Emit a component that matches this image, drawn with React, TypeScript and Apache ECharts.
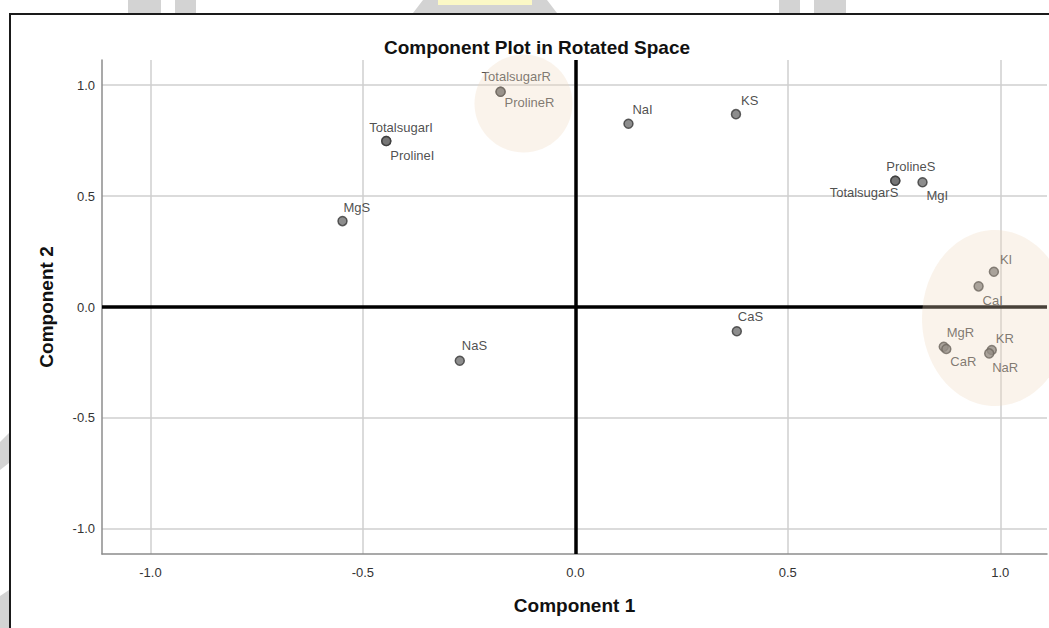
import React, { useEffect, useRef } from "react";
import * as echarts from "echarts";

const pointNames = [
  "TotalsugarR", "ProlineR", "TotalsugarI", "ProlineI", "NaI", "KS",
  "ProlineS", "TotalsugarS", "MgI", "KI", "CaI", "MgR", "CaR", "KR", "NaR",
  "MgS", "NaS", "CaS",
];
const component1 = [
  -0.176, -0.176, -0.445, -0.445, 0.125, 0.378,
  0.753, 0.753, 0.817, 0.985, 0.949, 0.867, 0.873, 0.98, 0.974,
  -0.548, -0.272, 0.38,
];
const component2 = [
  0.97, 0.97, 0.748, 0.748, 0.826, 0.869,
  0.569, 0.569, 0.562, 0.159, 0.093, -0.179, -0.189, -0.194, -0.209,
  0.387, -0.242, -0.109,
];
const tickValues = [-1.0, -0.5, 0.0, 0.5, 1.0];

// label placement (dx, dy from point centre, alignment) – styling only
const labelPlacement: Record<string, [number, number, string]> = {
  TotalsugarR: [-19, -15, "left"],
  ProlineR: [4, 11, "left"],
  TotalsugarI: [-17, -14, "left"],
  ProlineI: [4, 14, "left"],
  NaI: [4, -14, "left"],
  KS: [5, -14, "left"],
  ProlineS: [-9, -14, "left"],
  TotalsugarS: [3, 12, "right"],
  MgI: [4, 13, "left"],
  KI: [6, -12, "left"],
  CaI: [4, 14, "left"],
  MgR: [3, -14, "left"],
  CaR: [4, 13, "left"],
  KR: [4, -12, "left"],
  NaR: [3, 14, "left"],
  MgS: [1, -14, "left"],
  NaS: [2, -15, "left"],
  CaS: [1, -15, "left"],
};

export default function App() {
  const ref = useRef<HTMLDivElement>(null);
  useEffect(() => {
    if (!ref.current) return;
    const chart = echarts.init(ref.current, undefined, { renderer: "svg" });
    const font = "'Liberation Sans', Arial, sans-serif";
    const data = pointNames.map((n, i) => {
      const p = labelPlacement[n] || [4, -14, "left"];
      return {
        name: n,
        value: [component1[i], component2[i]],
        label: { offset: [p[0], p[1]], align: p[2] },
      };
    });
    const axisCommon = {
      type: "value",
      axisLine: { show: true, onZero: false, lineStyle: { color: "#8c8c8c", width: 1.5 } },
      axisTick: { show: false, customValues: tickValues },
      axisLabel: {
        customValues: tickValues,
        color: "#333",
        fontSize: 13,
        fontFamily: font,
        formatter: (v: number) => v.toFixed(1),
      },
      splitLine: { show: true, lineStyle: { color: "#cfcfcf", width: 1.5 } },
      nameLocation: "middle",
      nameTextStyle: { fontSize: 19, fontWeight: "bold", color: "#111", fontFamily: font },
    };
    chart.setOption({
      animation: false,
      backgroundColor: "#fff",
      title: {
        text: "Component Plot in Rotated Space",
        left: 532,
        textAlign: "center",
        top: 33,
        textStyle: { fontSize: 19, fontWeight: "bold", color: "#111", fontFamily: font },
      },
      grid: { left: 102, right: 2, top: 60, bottom: 74, containLabel: false, outerBoundsMode: "none" },
      xAxis: {
        ...axisCommon,
        min: -1.114,
        max: 1.11,
        name: "Component 1",
        nameGap: 42,
        axisLabel: { ...axisCommon.axisLabel, margin: 12 },
      },
      yAxis: {
        ...axisCommon,
        min: -1.113,
        max: 1.113,
        name: "Component 2",
        nameGap: 46,
        nameRotate: 90,
        axisLabel: { ...axisCommon.axisLabel, margin: 7 },
      },
      series: [
        {
          type: "scatter",
          data,
          symbol: "circle",
          symbolSize: 9,
          itemStyle: { color: "#707070", borderColor: "#383838", borderWidth: 1.5 },
          label: {
            show: true,
            position: "inside",
            formatter: "{b}",
            verticalAlign: "middle",
            fontSize: 13,
            fontFamily: font,
            color: "#222",
          },
          markLine: {
            silent: true,
            symbol: "none",
            label: { show: false },
            lineStyle: { color: "#000", width: 3.5, type: "solid" },
            data: [{ xAxis: 0 }, { yAxis: 0 }],
          },
          z: 3,
        },
      ],
      graphic: [
        { type: "rect", shape: { x: 128, y: 0, width: 33, height: 13 }, style: { fill: "#d3d3d3" }, z: 1 },
        { type: "rect", shape: { x: 175, y: 0, width: 21, height: 13 }, style: { fill: "#d3d3d3" }, z: 1 },
        { type: "rect", shape: { x: 779, y: 0, width: 21, height: 13 }, style: { fill: "#d3d3d3" }, z: 1 },
        { type: "rect", shape: { x: 814, y: 0, width: 32, height: 13 }, style: { fill: "#d3d3d3" }, z: 1 },
        { type: "polygon", shape: { points: [[413, 13], [557, 13], [547, 0], [423, 0]] }, style: { fill: "#d3d3d3" }, z: 1 },
        { type: "rect", shape: { x: 438, y: 0, width: 94, height: 5 }, style: { fill: "#fbf8c6" }, z: 2 },
        { type: "polygon", shape: { points: [[0, 442], [9, 433], [9, 463], [0, 470]] }, style: { fill: "#d3d3d3" }, z: 1 },
        { type: "polygon", shape: { points: [[0, 596], [9, 590], [9, 628], [0, 628]] }, style: { fill: "#d3d3d3" }, z: 1 },
        { type: "rect", shape: { x: 10, y: 14, width: 1100, height: 700 }, style: { fill: "none", stroke: "#1a1a1a", lineWidth: 2 }, z: 5 },
        { type: "ellipse", shape: { cx: 523.5, cy: 103.5, rx: 49, ry: 49 }, style: { fill: "rgba(240,215,190,0.3)" }, z: 100 },
        { type: "ellipse", shape: { cx: 995, cy: 318, rx: 73, ry: 88 }, style: { fill: "rgba(240,215,190,0.3)" }, z: 100 },
      ],
    });
    return () => chart.dispose();
  }, []);
  return (
    <div
      ref={ref}
      style={{ position: "fixed", left: 0, top: 0, width: 1049, height: 628, background: "#fff" }}
    />
  );
}
